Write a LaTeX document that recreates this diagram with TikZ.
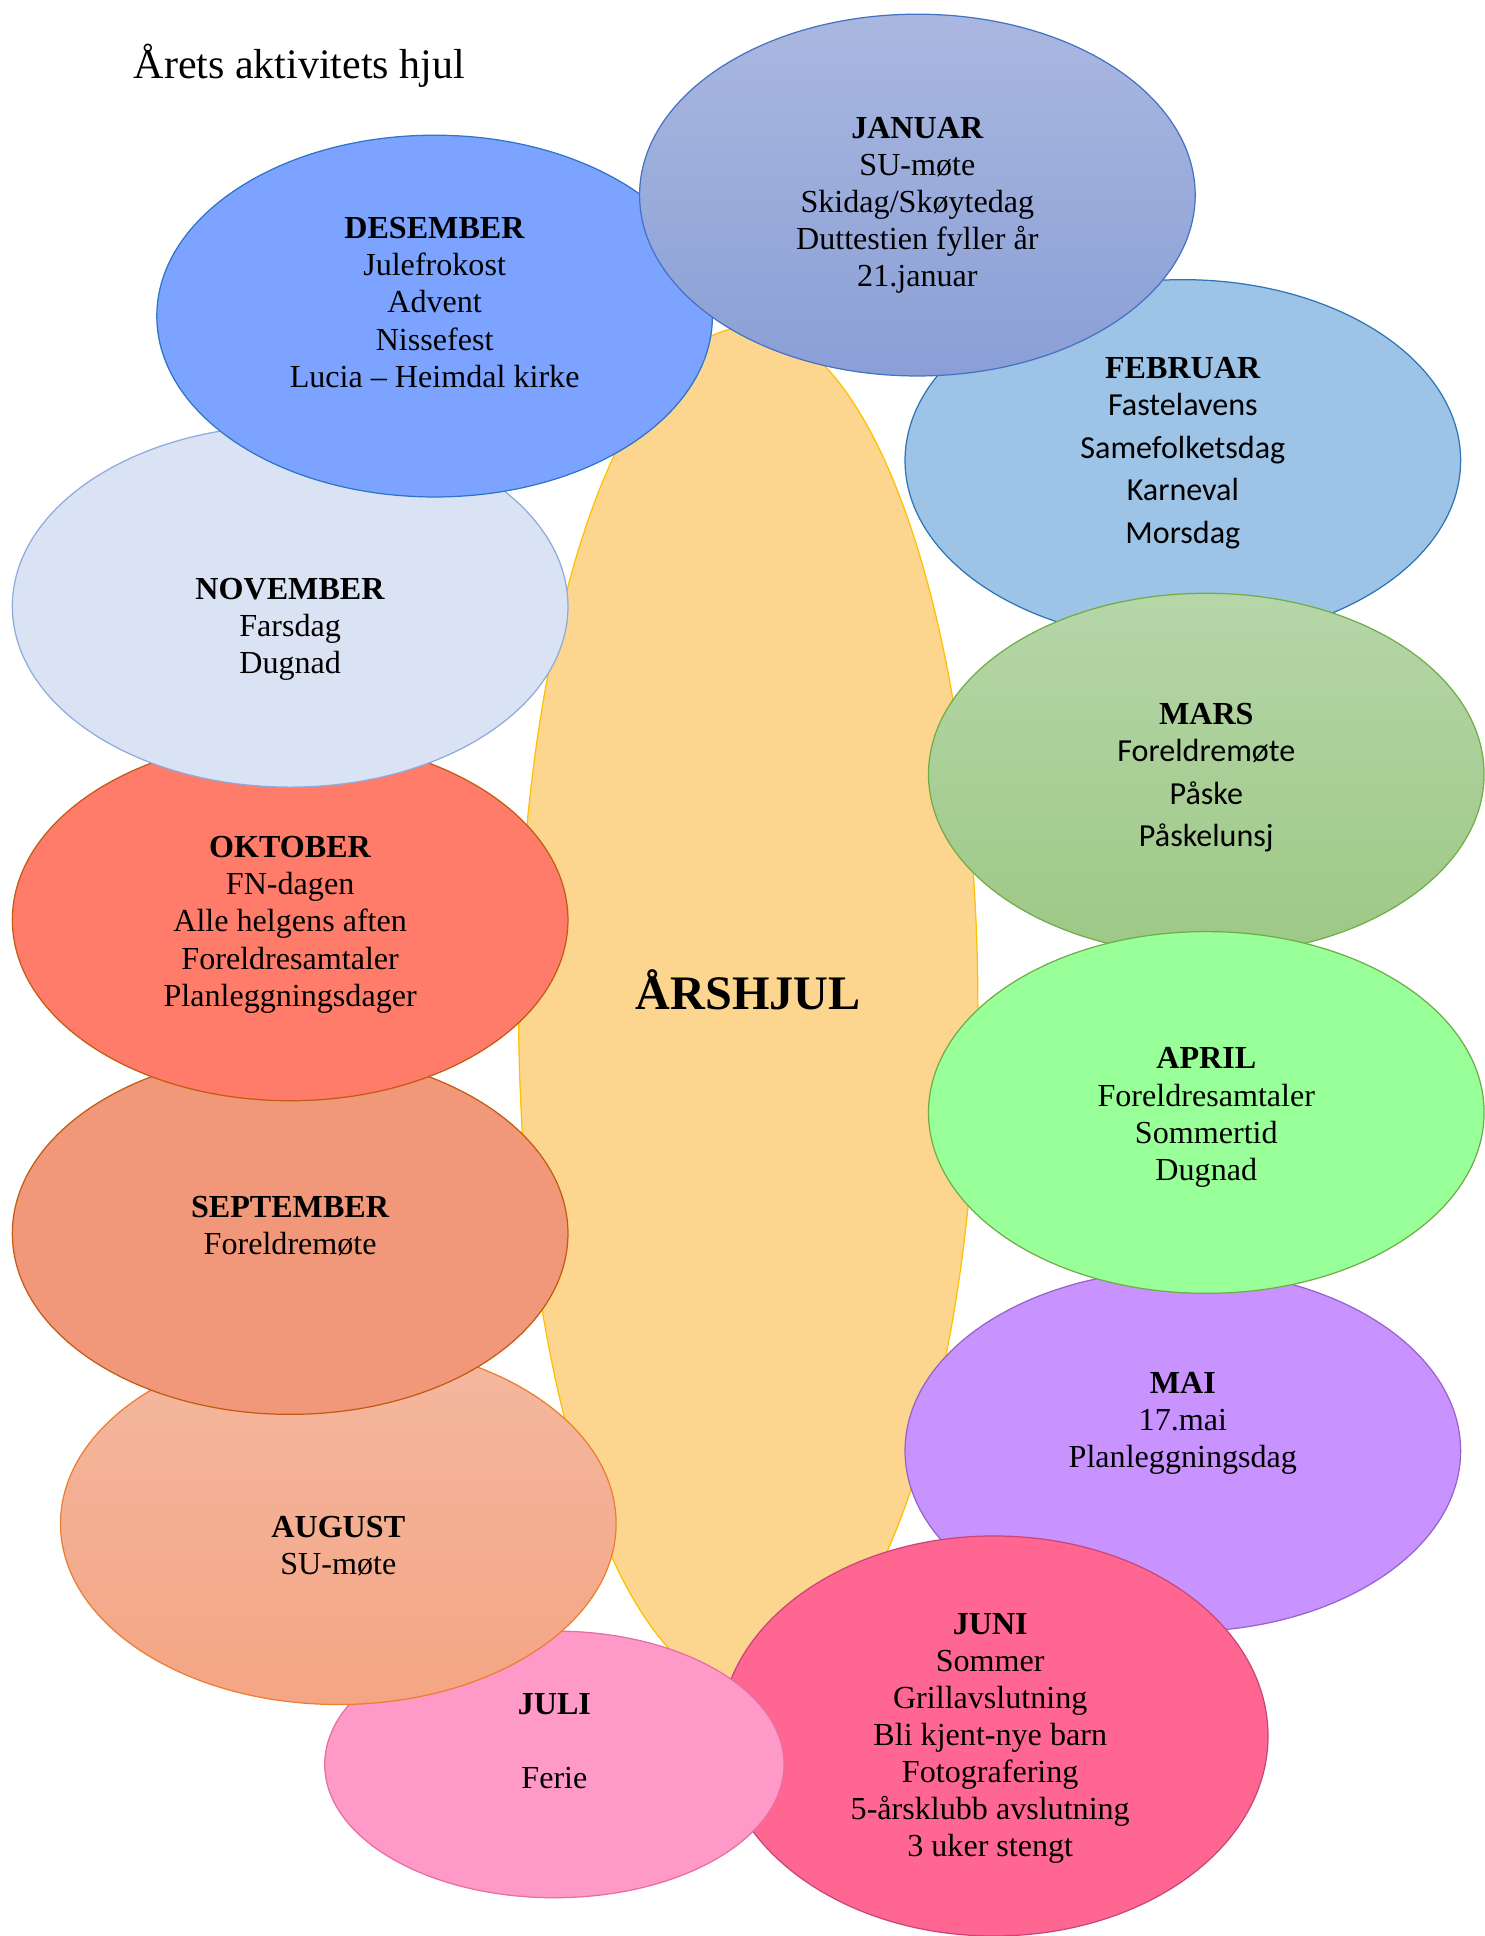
\documentclass[tikz,border=0pt]{standalone}
\usepackage{fontspec}
\setmainfont{Liberation Serif}
\setsansfont{Carlito}
\definecolor{arsfill}{RGB}{252, 214, 143}
\definecolor{arsline}{RGB}{255, 192, 0}
\definecolor{jantop}{RGB}{170, 184, 224}
\definecolor{janbot}{RGB}{138, 159, 214}
\definecolor{janline}{RGB}{68, 114, 196}
\definecolor{desfill}{RGB}{123, 163, 255}
\definecolor{desline}{RGB}{46, 117, 200}
\definecolor{febfill}{RGB}{157, 195, 230}
\definecolor{febline}{RGB}{46, 117, 182}
\definecolor{novfill}{RGB}{218, 227, 243}
\definecolor{novline}{RGB}{143, 170, 220}
\definecolor{martop}{RGB}{182, 214, 168}
\definecolor{marbot}{RGB}{157, 200, 134}
\definecolor{marline}{RGB}{112, 173, 71}
\definecolor{oktfill}{RGB}{255, 123, 106}
\definecolor{oktline}{RGB}{197, 90, 17}
\definecolor{aprfill}{RGB}{153, 255, 153}
\definecolor{aprline}{RGB}{112, 173, 71}
\definecolor{sepfill}{RGB}{241, 151, 122}
\definecolor{sepline}{RGB}{197, 90, 17}
\definecolor{maifill}{RGB}{200, 146, 255}
\definecolor{mailine}{RGB}{150, 100, 200}
\definecolor{augtop}{RGB}{244, 184, 160}
\definecolor{augbot}{RGB}{244, 165, 132}
\definecolor{augline}{RGB}{237, 125, 49}
\definecolor{julfill}{RGB}{255, 153, 200}
\definecolor{julline}{RGB}{230, 110, 160}
\definecolor{junfill}{RGB}{255, 102, 146}
\definecolor{junline}{RGB}{200, 70, 120}
\usetikzlibrary{
  positioning,
  shapes.geometric,
}
\tikzset{
  month/.style={draw,ellipse,inner sep=0pt,line width=0.5pt,minimum width=225pt,minimum height=146.5pt},
  monthtext/.style={align=center,yshift=-1.5pt,font=\fontsize{13}{15}\selectfont},
}

\begin{document}
\begin{tikzpicture}[x=0.5pt,y=-0.5pt]
      \useasboundingbox (0,0) rectangle (1202,1568);

      \node[month,minimum width=186pt,minimum height=552pt,draw=arsline,fill=arsfill]    (ar)  at (606,817)   {};
      \node[month,draw=mailine,fill=maifill]    (mai)  at (958,1175)   {};
      \node[month,minimum width=222pt,minimum height=162pt,draw=junline,fill=junfill]    (jun)  at (805,1406)   {};
      \node[month,minimum width=186pt,minimum height=108pt,draw=julline,fill=julfill]    (jul)  at (449,1429)   {};
      \node[month,draw=augline,top color=augtop,bottom color=augbot]    (aug)  at (274,1234)   {};
      \node[month,draw=sepline,fill=sepfill]    (sep)  at (235,999)   {};
      \node[month,draw=oktline,fill=oktfill]    (okt)  at (235,745)   {};
      \node[month,draw=novline,fill=novfill]    (nov)  at (235,491)   {};
      \node[month,draw=desline,fill=desfill]    (des)  at (352,256)   {};
      \node[month,draw=febline,fill=febfill]    (feb)  at (958,373)   {};
      \node[month,draw=marline,top color=martop,bottom color=marbot]    (mar)  at (977,627)   {};
      \node[month,draw=aprline,fill=aprfill]    (apr)  at (977,901)   {};
      \node[month,draw=janline,top color=jantop,bottom color=janbot]    (jan)  at (743,158)   {};

      \node[anchor=west,inner sep=0pt,font=\fontsize{17}{20}\selectfont]    (title)  at (108,53)   {Årets aktivitets hjul};
      \node[font=\bfseries\fontsize{19.5}{22}\selectfont]    (arT)  at (606,802)   {ÅRSHJUL};

      \node[monthtext]    (janT)  at (743,163)   {\textbf{JANUAR}\\SU-møte\\Skidag/Skøytedag\\Duttestien fyller år\\21.januar};
      \node[monthtext]    (febT)  at (958,364)   {\textbf{FEBRUAR}\\\textsf{Fastelavens}\\[2.25pt]\textsf{Samefolketsdag}\\[2.25pt]\textsf{Karneval}\\[2.25pt]\textsf{Morsdag}};
      \node[monthtext]    (marT)  at (977,627)   {\textbf{MARS}\\\textsf{Foreldremøte}\\[2.25pt]\textsf{Påske}\\[2.25pt]\textsf{Påskelunsj}};
      \node[monthtext]    (aprT)  at (977,902)   {\textbf{APRIL}\\Foreldresamtaler\\Sommertid\\Dugnad};
      \node[monthtext]    (maiT)  at (958,1150)   {\textbf{MAI}\\17.mai\\Planleggningsdag};
      \node[monthtext]    (junT)  at (802,1405)   {\textbf{JUNI}\\Sommer\\Grillavslutning\\Bli kjent-nye barn\\Fotografering\\5-årsklubb avslutning\\3 uker stengt};
      \node[monthtext]    (julT)  at (449,1407)   {\textbf{JULI}\\[15pt]Ferie};
      \node[monthtext]    (augT)  at (274,1249)   {\textbf{AUGUST}\\SU-møte};
      \node[monthtext]    (sepT)  at (235,990)   {\textbf{SEPTEMBER}\\Foreldremøte};
      \node[monthtext]    (oktT)  at (235,746)   {\textbf{OKTOBER}\\FN-dagen\\Alle helgens aften\\Foreldresamtaler\\Planleggningsdager};
      \node[monthtext]    (novT)  at (235,507)   {\textbf{NOVEMBER}\\Farsdag\\Dugnad};
      \node[monthtext]    (desT)  at (352,242)   {\textbf{DESEMBER}\\Julefrokost\\Advent\\Nissefest\\Lucia -- Heimdal kirke};
    \end{tikzpicture}
\end{document}
